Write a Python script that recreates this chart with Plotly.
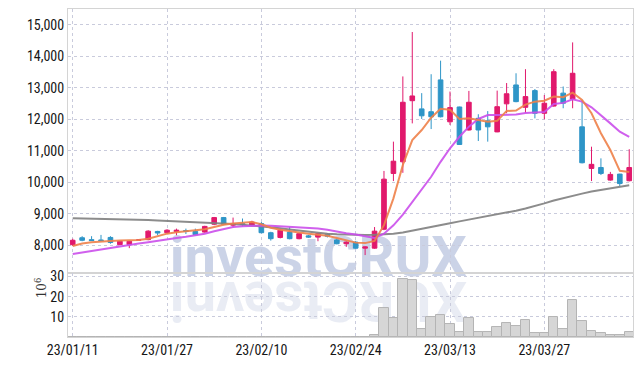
import plotly.graph_objects as go
from plotly.subplots import make_subplots

dates = ["23/01/11","23/01/12","23/01/13","23/01/16","23/01/17","23/01/18","23/01/19","23/01/20",
         "23/01/25","23/01/26","23/01/27","23/01/30","23/01/31","23/02/01","23/02/02","23/02/03",
         "23/02/06","23/02/07","23/02/08","23/02/09","23/02/10","23/02/13","23/02/14","23/02/15",
         "23/02/16","23/02/17","23/02/20","23/02/21","23/02/22","23/02/23","23/02/24","23/02/27",
         "23/02/28","23/03/02","23/03/03","23/03/06","23/03/07","23/03/08","23/03/09","23/03/10",
         "23/03/13","23/03/14","23/03/15","23/03/16","23/03/17","23/03/20","23/03/21","23/03/22",
         "23/03/23","23/03/24","23/03/27","23/03/28","23/03/29","23/03/30","23/03/31","23/04/03",
         "23/04/04","23/04/05","23/04/06","23/04/07"]

open_ = [8020, 8240, 8180, 8170, 8250, 8020, 8020, 8170, 8180, 8440, 8400, 8440, 8470, 8440, 8420,
         8670, 8880, 8640, 8690, 8640, 8690, 8400, 8250, 8420, 8210, 8300, 8260, 8350, 8170, 8050,
         8100, 7910, 7910, 8510, 10280, 10650, 12590, 12330, 12240, 13250, 11920, 12390, 11660, 12030,
         11950, 11600, 12490, 13090, 12380, 12910, 12190, 12420, 12830, 12640, 11760, 10440, 10470,
         10070, 10260, 10050]
high = [8210, 8290, 8290, 8330, 8290, 8140, 8140, 8170, 8480, 8460, 8510, 8530, 8530, 8530, 8620,
        8900, 8900, 8880, 8850, 8780, 8740, 8430, 8510, 8580, 8400, 8330, 8400, 8380, 8210, 8130,
        8140, 7970, 8580, 10360, 11290, 13360, 14770, 12830, 13430, 13860, 12880, 12400, 12900, 12160,
        12260, 12910, 13150, 13460, 13590, 12960, 12770, 13590, 13040, 14440, 12610, 11130, 10760,
        10330, 10270, 11050]
low = [7980, 8130, 8140, 8140, 8050, 8000, 7910, 8170, 8160, 8320, 8380, 8320, 8360, 8320, 8400,
       8640, 8640, 8580, 8600, 8600, 8380, 8150, 8220, 8190, 8190, 8240, 8130, 8250, 8030, 7950,
       7890, 7690, 7890, 8480, 10040, 10300, 11870, 12010, 11690, 12060, 11820, 11190, 11640, 11310,
       11290, 11590, 12190, 12540, 12200, 12030, 12000, 12400, 12350, 12350, 10600, 10040, 10230,
       10050, 9880, 10030]
close = [8160, 8160, 8150, 8150, 8090, 8130, 8130, 8170, 8450, 8390, 8480, 8480, 8440, 8340, 8600,
         8880, 8670, 8690, 8660, 8740, 8400, 8210, 8480, 8210, 8370, 8260, 8370, 8290, 8050, 8100,
         7910, 7950, 8450, 10100, 10670, 12540, 12740, 12110, 12080, 12080, 12370, 11200, 12540, 11660,
         11760, 12400, 12810, 12560, 12720, 12190, 12510, 13510, 12510, 13460, 10620, 10570, 10280,
         10250, 9960, 10470]

volume_m = [0.10, 0.12, 0.08, 0.08, 0.10, 0.08, 0.10, 0.05, 0.15, 0.10, 0.10, 0.08, 0.08, 0.08, 0.10,
            0.15, 0.12, 0.10, 0.08, 0.10, 0.12, 0.10, 0.10, 0.10, 0.08, 0.08, 0.08, 0.08, 0.10, 0.08,
            0.10, 0.15, 0.9, 14.2, 9.3, 28.9, 28.1, 4.1, 9.8, 10.9, 6.5, 2.6, 9.5, 2.6, 2.6, 4.9, 7.0,
            5.5, 8.5, 2.1, 2.1, 9.8, 4.1, 18.3, 8.0, 3.1, 2.1, 1.1, 1.1, 2.6]

ma_short = [7980, 8060, 8095, 8125, 8140, 8150, 8160, 8165, 8210, 8285, 8370, 8415, 8445, 8470, 8510,
            8580, 8650, 8690, 8715, 8740, 8670, 8560, 8495, 8445, 8405, 8370, 8335, 8300, 8230, 8160,
            8085, 8070, 8140, 8640, 9490, 10550, 11340, 11660, 12050, 12330, 12300, 12010, 12030, 11980,
            11920, 11950, 12265, 12275, 12465, 12560, 12590, 12720, 12700, 12845, 12615, 12190, 11555,
            11025, 10365, 10330]
ma_mid = [7725, 7775, 7825, 7875, 7920, 7970, 8015, 8055, 8095, 8145, 8190, 8230, 8270, 8320, 8365,
          8445, 8510, 8580, 8605, 8620, 8625, 8620, 8605, 8580, 8565, 8545, 8530, 8495, 8430, 8380,
          8340, 8285, 8230, 8370, 8635, 8975, 9380, 9805, 10175, 10650, 11080, 11445, 11765, 12010,
          12135, 12135, 12135, 12150, 12200, 12215, 12230, 12485, 12520, 12635, 12560, 12380, 12135,
          11870, 11605, 11445]
ma_long = [8860, 8855, 8850, 8843, 8836, 8828, 8820, 8810, 8800, 8790, 8778, 8766, 8754, 8740, 8725,
           8710, 8693, 8675, 8655, 8630, 8600, 8570, 8540, 8505, 8470, 8435, 8395, 8370, 8355, 8340,
           8335, 8330, 8335, 8345, 8370, 8405, 8460, 8520, 8580, 8640, 8700, 8760, 8815, 8870, 8925,
           8975, 9030, 9100, 9170, 9240, 9330, 9420, 9500, 9570, 9640, 9705, 9760, 9810, 9860, 9905]

price_ticks = [8000, 9000, 10000, 11000, 12000, 13000, 14000, 15000]
price_labels = ["8,000", "9,000", "10,000", "11,000", "12,000", "13,000", "14,000", "15,000"]
volume_ticks = [10, 20, 30]
volume_labels = ["10", "20", "30"]
date_ticks = [dates[i] for i in (0, 10, 20, 30, 40, 50)]


def narrow(s):
    return f"<span style='font-stretch:condensed'>{s}</span>"


RED = "#e1196c"
BLUE = "#2e95c7"
GRID = "#c9cbdc"
AXLINE = "#d4d4d4"
TICKFONT = dict(family="Roboto, sans-serif", size=14, color="#161616")

fig = make_subplots(rows=2, cols=1, shared_xaxes=True, vertical_spacing=0,
                    row_heights=[0.805, 0.195])

fig.add_trace(go.Candlestick(
    x=dates, open=open_, high=high, low=low, close=close,
    increasing=dict(line=dict(color=RED, width=1), fillcolor=RED),
    decreasing=dict(line=dict(color=BLUE, width=1), fillcolor=BLUE),
    whiskerwidth=0, showlegend=False), row=1, col=1)

fig.add_trace(go.Scatter(x=dates, y=ma_long, mode="lines",
                         line=dict(color="#808080", width=2), opacity=0.9,
                         showlegend=False), row=1, col=1)
fig.add_trace(go.Scatter(x=dates, y=ma_mid, mode="lines",
                         line=dict(color="#cb4fec", width=2), opacity=0.9,
                         showlegend=False), row=1, col=1)
fig.add_trace(go.Scatter(x=dates, y=ma_short, mode="lines",
                         line=dict(color="#ef814a", width=2), opacity=0.9,
                         showlegend=False), row=1, col=1)

fig.add_trace(go.Bar(x=dates, y=volume_m,
                     marker=dict(color="#d6d6d6", line=dict(color="#b4b4b4", width=1)),
                     showlegend=False), row=2, col=1)

fig.update_xaxes(type="category", range=[-0.5, 59.4], tickvals=date_ticks,
                 ticktext=[narrow(d) for d in date_ticks],
                 showgrid=True, gridcolor=GRID, griddash="dot", gridwidth=1,
                 showline=True, linecolor=AXLINE, linewidth=1, mirror=True, ticks="",
                 tickfont=TICKFONT, ticklabelstandoff=0, rangeslider=dict(visible=False))
fig.update_xaxes(showticklabels=False, row=1, col=1)

fig.update_yaxes(range=[7120, 15500], tickvals=price_ticks,
                 ticktext=[narrow(t) for t in price_labels],
                 showgrid=True, gridcolor=GRID, griddash="dot", gridwidth=1,
                 showline=True, linecolor=AXLINE, linewidth=1, mirror=True, ticks="",
                 tickfont=TICKFONT, ticklabelstandoff=0, zeroline=False, row=1, col=1)
fig.update_yaxes(range=[0, 31.7], tickvals=volume_ticks,
                 ticktext=[narrow(t) for t in volume_labels],
                 showgrid=True, gridcolor=GRID, griddash="dot", gridwidth=1,
                 showline=True, linecolor=AXLINE, linewidth=1, mirror=True, ticks="",
                 tickfont=TICKFONT, ticklabelstandoff=0, zeroline=False, row=2, col=1)

WM_FONT = "Roboto, sans-serif"
fig.add_shape(type="rect", xref="paper", yref="paper", x0=0.189, x1=0.697, y0=0.190, y1=0.320,
              line=dict(width=0), fillcolor="rgba(0,0,0,0)", layer="below",
              label=dict(text="<b>investCRUX</b>", textposition="middle center",
                         font=dict(family=WM_FONT, size=56, color="rgba(188,198,224,0.78)")))
fig.add_shape(type="rect", xref="paper", yref="paper", x0=0.189, x1=0.697, y0=0.032, y1=0.162,
              line=dict(width=0), fillcolor="rgba(0,0,0,0)", layer="below",
              label=dict(text="<b>XURCtsevni</b>", textposition="middle center", textangle=180,
                         font=dict(family=WM_FONT, size=56, color="rgba(200,208,228,0.40)")))

fig.add_annotation(text="10<sup>6</sup>", xref="paper", yref="paper", x=-0.064, y=0.113,
                   textangle=-90, showarrow=False,
                   font=dict(family="DejaVu Serif, serif", size=12, color="#333333"))

# page body keeps an 8 px margin, so the figure is sized to fit the 642x366 window
fig.update_layout(width=634, height=358,
                  margin=dict(l=60, r=9, t=1, b=29, autoexpand=False),
                  paper_bgcolor="white", plot_bgcolor="rgba(0,0,0,0)",
                  bargap=0, hovermode=False, showlegend=False)

fig.write_html("out.html")
